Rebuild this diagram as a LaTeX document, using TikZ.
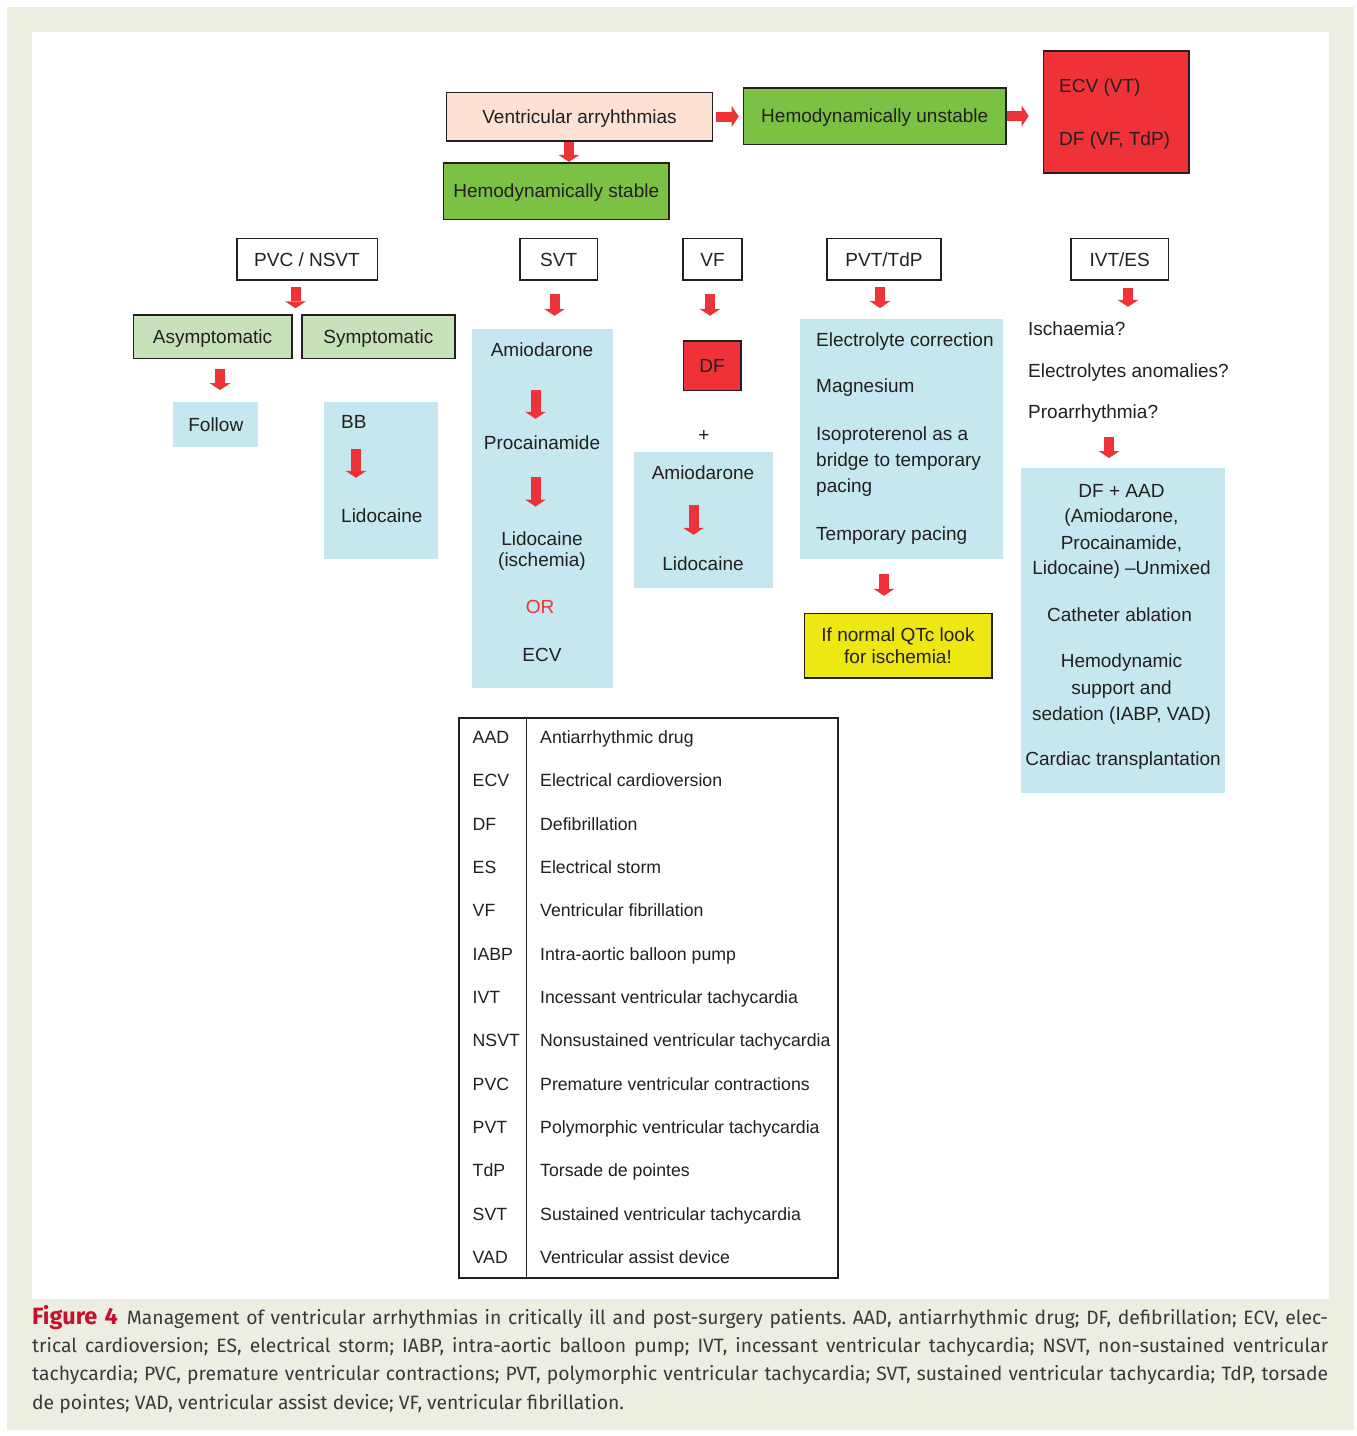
\documentclass[tikz,border=0pt]{standalone}
\usepackage{fontspec}
\setmainfont{Liberation Sans}
\newfontfamily\capfont{Fira Sans}
\usetikzlibrary{arrows.meta}
\definecolor{bgbeige}{RGB}{237,237,226}
\definecolor{peach}{RGB}{253,225,210}
\definecolor{stgreen}{RGB}{123,193,67}
\definecolor{boxred}{RGB}{238,50,56}
\definecolor{palegreen}{RGB}{199,226,186}
\definecolor{paleblue}{RGB}{198,231,239}
\definecolor{qtyellow}{RGB}{237,232,17}
\definecolor{arrred}{RGB}{238,51,56}
\definecolor{inkblk}{RGB}{35,31,32}
\definecolor{figred}{RGB}{200,16,46}
\definecolor{capgray}{RGB}{58,58,58}

\begin{document}
\begin{tikzpicture}[x=1pt,y=-1pt,font=\fontsize{19}{23}\selectfont,text=inkblk,
    box/.style={draw=inkblk,line width=1.6pt,inner sep=0pt,text height=13.6pt,text depth=0pt},
    bluebox/.style={fill=paleblue,inner sep=0pt,text height=13.6pt,text depth=0pt},
    txt/.style={anchor=base,inner sep=0pt,text height=13.6pt,text depth=4pt},
    ltxt/.style={txt,anchor=base west},
    redarr/.style={draw=arrred,line width=10pt,-{Triangle[width=21pt,length=7pt,line width=0pt]}},
    tabtxt/.style={anchor=base west,inner sep=0pt,font=\fontsize{17.7}{22}\selectfont}]
            \useasboundingbox (0,0) rectangle (1357,1436);
            \fill[bgbeige] (7,7) rectangle (1354,1430);
            \fill[white] (32,32) rectangle (1329,1299);
            % top row
            \node[box,fill=peach,minimum width=266pt,minimum height=48.4pt] (vent) at (579.5,116.5) {Ventricular arryhthmias};
            \node[box,fill=stgreen,minimum width=262.5pt,minimum height=56.6pt] (unstable) at (874.75,116) {Hemodynamically unstable};
            \node[box,fill=boxred,minimum width=145.5pt,minimum height=122pt] (red) at (1116.25,111.7) {};
            \node[ltxt] (ecv) at (1059,92.7) {ECV (VT)};
            \node[ltxt] (dfv) at (1059,145) {DF (VF, TdP)};
            \node[box,fill=stgreen,minimum width=225.5pt,minimum height=56.6pt] (stable) at (556.25,191) {Hemodynamically stable};
            \draw[redarr,shorten <=3pt,shorten >=4pt] (vent.east) -- (vent.east -| unstable.west);
            \draw[redarr,shorten >=14pt] (unstable.east) -- (unstable.east -| red.west);
            \draw[redarr] ([xshift=-10.5pt]vent.south) -- ([xshift=12.75pt]stable.north);
            % categories
            \node[box,minimum width=140.6pt,minimum height=41.7pt] (pvc) at (307,259.2) {PVC / NSVT};
            \node[box,minimum width=77.3pt,minimum height=41.7pt] (svt) at (558.7,259.2) {SVT};
            \node[box,minimum width=59pt,minimum height=41.7pt] (vf) at (712.5,259.2) {VF};
            \node[box,minimum width=114pt,minimum height=41.7pt] (pvt) at (884,259.2) {PVT/TdP};
            \node[box,minimum width=97.3pt,minimum height=41.7pt] (ivt) at (1119.7,259.2) {IVT/ES};
            % PVC / NSVT
            \node[box,fill=palegreen,minimum width=158.4pt,minimum height=43.3pt] (asym) at (212.5,336.7) {Asymptomatic};
            \node[box,fill=palegreen,minimum width=153.3pt,minimum height=43.3pt] (sym) at (378.4,336.7) {Symptomatic};
            \node[bluebox,minimum width=85pt,minimum height=45pt] (follow) at (215.8,424.2) {Follow};
            \node[bluebox,minimum width=114.3pt,minimum height=157.3pt] (bbbox) at (381.2,480.4) {};
            \node[ltxt] (bbt) at (341,428.3) {BB};
            \node[ltxt] (bblido) at (341,522) {Lidocaine};
            \draw[redarr,shorten <=6pt,shorten >=6pt] ([xshift=-11.5pt]pvc.south) -- ([xshift=-11.5pt]pvc.south |- asym.north);
            \draw[redarr,shorten <=10.2pt,shorten >=11.5pt] ([xshift=7.5pt]asym.south) -- ([xshift=7.5pt]asym.south |- follow.north);
            \draw[redarr,shorten <=16pt,shorten >=30.4pt] ([xshift=15pt]bbt.south west) -- ([xshift=15pt]bblido.north west);
            % SVT
            \node[bluebox,minimum width=141.6pt,minimum height=359.3pt] (svtbox) at (542.5,508.7) {};
            \node[txt] (amio1) at (542,356) {Amiodarone};
            \node[txt] (proc1) at (542,449.3) {Procainamide};
            \node[txt] (lido1) at (542,545) {Lidocaine};
            \node[txt] (isch1) at (542,566.7) {(ischemia)};
            \node[txt,text=boxred] (or) at (540,613.3) {OR};
            \node[txt] (ecv1) at (542,661.7) {ECV};
            \draw[redarr,shorten <=13.5pt,shorten >=13.1pt] ([xshift=-4.2pt]svt.south) -- ([xshift=-4.2pt]svt.south |- svtbox.north);
            \draw[redarr,shorten <=29.3pt,shorten >=16.7pt] ([xshift=-6.5pt]amio1.south) -- ([xshift=-6.5pt]proc1.north);
            \draw[redarr,shorten <=23.7pt,shorten >=24.7pt] ([xshift=-6.5pt]proc1.south) -- ([xshift=-6.5pt]lido1.north);
            % VF
            \node[box,fill=boxred,minimum width=57.4pt,minimum height=49.3pt] (df) at (712,365.7) {DF};
            \node (plus) at (704,435.7) {+};
            \node[bluebox,minimum width=139pt,minimum height=136pt] (vfbox) at (703.9,519.7) {};
            \node[txt] (vfamio) at (703,479.3) {Amiodarone};
            \node[txt] (vflido) at (703,570.7) {Lidocaine};
            \draw[redarr,shorten <=13.5pt,shorten >=24.5pt] ([xshift=-2.5pt]vf.south) -- ([xshift=-2.5pt]vf.south |- df.north);
            \draw[redarr,shorten <=21.7pt,shorten >=22.1pt] ([xshift=-9.5pt]vfamio.south) -- ([xshift=-9.5pt]vflido.north);
            % PVT/TdP
            \node[bluebox,minimum width=203.4pt,minimum height=240.3pt] (pvtbox) at (901.3,439.2) {};
            \node[ltxt] (elec) at (816,346) {Electrolyte correction};
            \node[ltxt] (magn) at (816,392.7) {Magnesium};
            \node[ltxt] (iso1) at (816,440) {Isoproterenol as a};
            \node[ltxt] (iso2) at (816,466.7) {bridge to temporary};
            \node[ltxt] (iso3) at (816,492.7) {pacing};
            \node[ltxt] (temp) at (816,540.7) {Temporary pacing};
            \node[box,fill=qtyellow,minimum width=187.4pt,minimum height=64.7pt] (qt) at (898.3,645.7) {};
            \node[txt] (qt1) at (898,641) {If normal QTc look};
            \node[txt] (qt2) at (898,663.3) {for ischemia!};
            \draw[redarr,shorten <=6.2pt,shorten >=10.8pt] ([xshift=-4pt]pvt.south) -- ([xshift=-4pt]pvt.south |- pvtbox.north);
            \draw[redarr,shorten <=14.5pt,shorten >=16.8pt] ([xshift=-17.3pt]pvtbox.south) -- ([xshift=-17.3pt]pvtbox.south |- qt.north);
            % IVT/ES
            \node[ltxt] (isch) at (1028,335.5) {Ischaemia?};
            \node[ltxt] (anom) at (1028,377) {Electrolytes anomalies?};
            \node[ltxt] (proar) at (1028,418.4) {Proarrhythmia?};
            \node[bluebox,minimum width=204pt,minimum height=325pt] (ivtbox) at (1123,630.5) {};
            \node[txt] (dfaad) at (1121.5,497.3) {DF + AAD};
            \node[txt] (iamio) at (1121.5,522.7) {(Amiodarone,};
            \node[txt] (iproc) at (1121.5,549.3) {Procainamide,};
            \node[txt] (ilido) at (1121.5,574.7) {Lidocaine) –Unmixed};
            \node[txt] (cath) at (1119.5,621) {Catheter ablation};
            \node[txt] (hemo1) at (1121.5,667.5) {Hemodynamic};
            \node[txt] (hemo2) at (1121.5,694) {support and};
            \node[txt] (hemo3) at (1121.5,720) {sedation (IABP, VAD)};
            \node[txt] (transp) at (1123,765.6) {Cardiac transplantation};
            \draw[redarr,shorten <=6.7pt,shorten >=14.9pt] ([xshift=8.3pt]ivt.south) -- ([xshift=8.3pt]ivt.south |- isch.north);
            \draw[redarr,shorten <=14.6pt,shorten >=9.8pt] ([xshift=81pt]proar.south west) -- ([xshift=81pt]proar.south west |- ivtbox.north);
            % abbreviations
            \node[draw=inkblk,line width=1.3pt,inner sep=0pt,minimum width=379pt,minimum height=560pt] (tab) at (648.5,998) {};
            \draw[draw=inkblk,line width=1.3pt] ([xshift=68pt]tab.north west) -- ([xshift=68pt]tab.south west);
            \node[tabtxt] (ab1) at (472.5,743.3) {AAD};   \node[tabtxt] (de1) at (540,743.3) {Antiarrhythmic drug};
            \node[tabtxt] (ab2) at (472.5,786.6) {ECV};   \node[tabtxt] (de2) at (540,786.6) {Electrical cardioversion};
            \node[tabtxt] (ab3) at (472.5,830) {DF};      \node[tabtxt] (de3) at (540,830) {Defibrillation};
            \node[tabtxt] (ab4) at (472.5,873.3) {ES};    \node[tabtxt] (de4) at (540,873.3) {Electrical storm};
            \node[tabtxt] (ab5) at (472.5,916.6) {VF};    \node[tabtxt] (de5) at (540,916.6) {Ventricular fibrillation};
            \node[tabtxt] (ab6) at (472.5,960) {IABP};    \node[tabtxt] (de6) at (540,960) {Intra-aortic balloon pump};
            \node[tabtxt] (ab7) at (472.5,1003.3) {IVT};  \node[tabtxt] (de7) at (540,1003.3) {Incessant ventricular tachycardia};
            \node[tabtxt] (ab8) at (472.5,1046.6) {NSVT}; \node[tabtxt] (de8) at (540,1046.6) {Nonsustained ventricular tachycardia};
            \node[tabtxt] (ab9) at (472.5,1090) {PVC};    \node[tabtxt] (de9) at (540,1090) {Premature ventricular contractions};
            \node[tabtxt] (ab10) at (472.5,1133.3) {PVT}; \node[tabtxt] (de10) at (540,1133.3) {Polymorphic ventricular tachycardia};
            \node[tabtxt] (ab11) at (472.5,1176.6) {TdP}; \node[tabtxt] (de11) at (540,1176.6) {Torsade de pointes};
            \node[tabtxt] (ab12) at (472.5,1220) {SVT};   \node[tabtxt] (de12) at (540,1220) {Sustained ventricular tachycardia};
            \node[tabtxt] (ab13) at (472.5,1263.3) {VAD}; \node[tabtxt] (de13) at (540,1263.3) {Ventricular assist device};
            % caption
            \node[anchor=base west,inner sep=0pt,text width=1296pt,align=justify,text=capgray,
                font=\capfont\fontsize{19.3}{28.3}\selectfont] (cap) at (32,1324.3)
                {\frenchspacing\hyphenpenalty=10000\relax\tolerance=9999\relax
                {\fontsize{23.5}{28.3}\selectfont\bfseries\color{figred}Figure 4}\hspace{9pt}Management of ventricular arrhythmias in critically ill and post-surgery patients. AAD, antiarrhythmic drug; DF, defibrillation; ECV, elec-\linebreak
                trical cardioversion; ES, electrical storm; IABP, intra-aortic balloon pump; IVT, incessant ventricular tachycardia; NSVT, non-sustained ventricular\linebreak
                tachycardia; PVC, premature ventricular contractions; PVT, polymorphic ventricular tachycardia; SVT, sustained ventricular tachycardia; TdP, torsade\linebreak
                de pointes; VAD, ventricular assist device; VF, ventricular fibrillation.};
        \end{tikzpicture}
\end{document}
